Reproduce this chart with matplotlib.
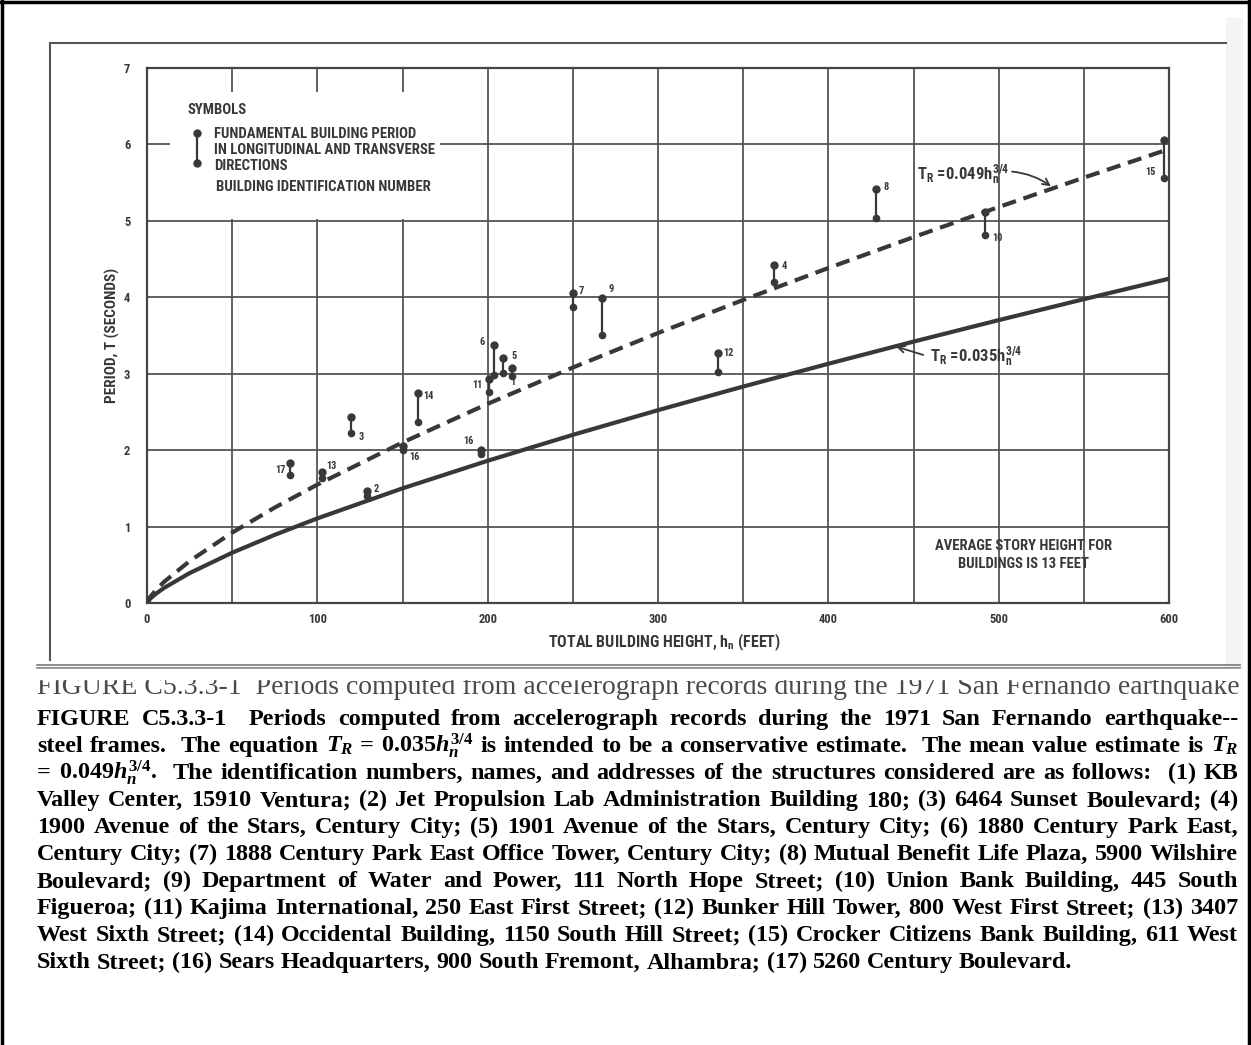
import matplotlib
matplotlib.use('Agg')
import matplotlib.pyplot as plt
from matplotlib import font_manager
from matplotlib.patches import Rectangle
from matplotlib.lines import Line2D

W, H = 1251, 1045

# code curves T = 0.035 h^3/4 (lower bound) and T = 0.049 h^3/4 (mean)
heights = [0, 2, 5, 10, 25, 50, 75, 100, 150, 200, 250, 300, 350, 400, 450, 500, 550, 600]
period_lower = [0, 0.059, 0.117, 0.197, 0.391, 0.658, 0.892, 1.107, 1.500, 1.861,
                2.200, 2.523, 2.832, 3.130, 3.420, 3.701, 3.975, 4.243]
period_mean = [0, 0.082, 0.164, 0.276, 0.548, 0.921, 1.249, 1.549, 2.100, 2.606,
               3.081, 3.532, 3.965, 4.383, 4.787, 5.181, 5.565, 5.940]

# measured buildings: period range (longitudinal / transverse)
bldg_ids = ['1', '2', '3', '4', '5', '6', '7', '8', '9', '10', '11', '12', '13', '14',
            '15', '16', '16', '17']
bldg_height = [214, 129, 120, 368, 209, 204, 250, 428, 267, 492, 201, 335, 103, 159,
               597, 150, 196, 84]
period_max = [3.07, 1.47, 2.43, 4.42, 3.21, 3.38, 4.06, 5.42, 3.99, 5.12, 2.93, 3.27,
              1.71, 2.75, 6.06, 2.05, 2.00, 1.83]
period_min = [2.97, 1.40, 2.22, 4.20, 3.01, 2.98, 3.87, 5.04, 3.51, 4.81, 2.76, 3.02,
              1.64, 2.37, 5.56, 2.00, 1.95, 1.67]
# where each id label sits relative to the top of its bar (pixels)
label_offset = [(1, -14), (10, 2), (10, -20), (10, -1), (11, 2), (-12, 3), (8, 2),
                (10, 2), (9, 9), (12, -26), (-12, -6), (11, 0), (9, 6), (11, -3),
                (-13, -32), (12, -11), (-12, 9), (-10, -7)]

x_ticks = [0, 100, 200, 300, 400, 500, 600]
y_ticks = [0, 1, 2, 3, 4, 5, 6, 7]

caption_lines = [
    "FIGURE C5.3.3-1  Periods computed from accelerograph records during the 1971 San Fernando earthquake--",
    "steel frames.  The equation $T_R$ = 0.035$h_n^{\\mathit{3/4}}$ is intended to be a conservative estimate.  The mean value estimate is $T_R$",
    "= 0.049$h_n^{\\mathit{3/4}}$.  The identification numbers, names, and addresses of the structures considered are as follows:  (1) KB",
    "Valley Center, 15910 Ventura; (2) Jet Propulsion Lab Administration Building 180; (3) 6464 Sunset Boulevard; (4)",
    "1900 Avenue of the Stars, Century City; (5) 1901 Avenue of the Stars, Century City; (6) 1880 Century Park East,",
    "Century City; (7) 1888 Century Park East Office Tower, Century City; (8) Mutual Benefit Life Plaza, 5900 Wilshire",
    "Boulevard; (9) Department of Water and Power, 111 North Hope Street; (10) Union Bank Building, 445 South",
    "Figueroa; (11) Kajima International, 250 East First Street; (12) Bunker Hill Tower, 800 West First Street; (13) 3407",
    "West Sixth Street; (14) Occidental Building, 1150 South Hill Street; (15) Crocker Citizens Bank Building, 611 West",
    "Sixth Street; (16) Sears Headquarters, 900 South Fremont, Alhambra; (17) 5260 Century Boulevard.",
]
scan_caption = "FIGURE C5.3.3-1  Periods computed from accelerograph records during the 1971 San Fernando earthquake"

names = {f.name for f in font_manager.fontManager.ttflist}
NARROW = 'Roboto'
for cand in ['Liberation Sans Narrow', 'Roboto Condensed', 'Open Sans Condensed', 'Roboto']:
    if cand in names:
        NARROW = cand
        break
SERIF = 'Liberation Serif'

plt.rcParams['mathtext.fontset'] = 'custom'
plt.rcParams['mathtext.rm'] = SERIF + ':bold'
plt.rcParams['mathtext.it'] = SERIF + ':italic:bold'
plt.rcParams['mathtext.bf'] = SERIF + ':bold'
plt.rcParams['mathtext.sf'] = NARROW + ':bold'

INK = '#383838'
chart_font = dict(fontfamily=NARROW, fontweight='bold', color=INK)


def fx(x):
    return x / W


def fy(y):
    return 1 - y / H


fig = plt.figure(figsize=(W / 100, H / 100), dpi=100)
renderer = fig.canvas.get_renderer()

# scan frame and outer border
fig.patches.append(Rectangle((fx(1226), fy(668)), 16 / W, 650 / H, transform=fig.transFigure,
                             color='#f4f4f4', zorder=0))
for xs, ys, c, lw in [([50, 1226], [43, 43], '#555', 1.5),
                      ([50, 50], [43, 660], '#555', 1.5),
                      ([37, 1240], [665, 665], '#777', 1.2),
                      ([37, 1240], [668, 668], '#777', 1.2),
                      ([1.5, 1.5], [0, H], 'black', 2.5),
                      ([0, W], [1.5, 1.5], 'black', 2.5),
                      ([1248.5, 1248.5], [0, H], 'black', 2.5)]:
    fig.lines.append(Line2D([fx(v) for v in xs], [fy(v) for v in ys], color=c, lw=lw,
                            transform=fig.transFigure))

ax = fig.add_axes([fx(147), fy(603), 1022 / W, 535 / H])
ax.set_xlim(0, 600)
ax.set_ylim(0, 7)
ax.set_xticks(x_ticks)
ax.set_xticks(range(0, 601, 50), minor=True)
ax.set_yticks(y_ticks)
ax.set_xticklabels([str(v) for v in x_ticks], fontsize=9, **chart_font)
ax.set_yticklabels([str(v) for v in y_ticks], fontsize=9, **chart_font)
ax.tick_params(which='both', length=0)
ax.tick_params(axis='x', pad=7)
ax.tick_params(axis='y', pad=12)
ax.grid(True, which='both', color='#555', lw=1.3)
for s in ax.spines.values():
    s.set_color('#444')
    s.set_linewidth(1.6)

# blank area for the symbol key
ax.add_patch(Rectangle((0.0225, 0.718), 0.264, 0.237, transform=ax.transAxes,
                       facecolor='white', edgecolor='none', zorder=1.6))

ax.plot(heights, period_lower, color=INK, lw=3.0, zorder=3)
ax.plot(heights, period_mean, color=INK, lw=3.0, ls=(0, (3.4, 1.9)), zorder=3)

ax.vlines(bldg_height, period_min, period_max, color=INK, lw=1.6, zorder=4)
ax.plot(bldg_height, period_max, 'o', color=INK, ms=5, zorder=4)
ax.plot(bldg_height, period_min, 'o', color=INK, ms=4.5, zorder=4)
for h, t, lab, off in zip(bldg_height, period_max, bldg_ids, label_offset):
    ax.annotate(lab, (h, t), xytext=off, textcoords='offset pixels', ha='center',
                va='center', fontsize=7.5, zorder=5, **chart_font)

# symbol key
ax.plot([0.0489, 0.0489], [0.8785, 0.8224], color=INK, lw=1.6, transform=ax.transAxes, zorder=4)
ax.plot([0.0489, 0.0489], [0.8785, 0.8224], 'o', color=INK, ms=5, transform=ax.transAxes, zorder=4)
key_size = 10.6
fig.text(fx(187), fy(110), 'SYMBOLS', fontsize=key_size, va='center', **chart_font)
fig.text(fx(214), fy(150), 'FUNDAMENTAL BUILDING PERIOD\nIN LONGITUDINAL AND TRANSVERSE\nDIRECTIONS',
         fontsize=key_size, va='center', linespacing=1.2, **chart_font)
fig.text(fx(216), fy(187), 'BUILDING IDENTIFICATION NUMBER', fontsize=key_size, va='center',
         **chart_font)

# curve labels
ax.annotate(r'$\mathsf{T_R}$ =0.049$\mathsf{h_n^{3/4}}$', xy=(532, 5.43),
            xytext=(fx(917), fy(175)), textcoords='figure fraction', va='center', ha='left',
            fontsize=12, **chart_font, zorder=5,
            arrowprops=dict(arrowstyle='->', color=INK, lw=1.3, shrinkA=0, shrinkB=2,
                            relpos=(1.0, 0.65), connectionstyle='arc3,rad=-0.15'))
ax.annotate(r'$\mathsf{T_R}$ =0.035$\mathsf{h_n^{3/4}}$', xy=(439, 3.36),
            xytext=(fx(930), fy(357)), textcoords='figure fraction', va='center', ha='left',
            fontsize=12, **chart_font, zorder=5,
            arrowprops=dict(arrowstyle='->', color=INK, lw=1.3, shrinkA=3, shrinkB=1,
                            relpos=(0.0, 0.5)))
fig.text(fx(1024), fy(555), 'AVERAGE STORY HEIGHT FOR\nBUILDINGS IS 13 FEET', ha='center',
         va='center', fontsize=10.5, linespacing=1.3, **chart_font)

fig.text(fx(112), fy(335), 'PERIOD, T (SECONDS)', rotation=90, ha='center', va='center',
         fontsize=11, **chart_font)
fig.text(fx(665), fy(642), r'TOTAL BUILDING HEIGHT, $\mathsf{h_n}$ (FEET)', ha='center',
         va='center', fontsize=11.5, **chart_font)

# caption of the scan, cut off at the top
t = fig.text(fx(37), fy(694), scan_caption, fontfamily=SERIF, fontsize=16, color='#4a4a4a',
             va='baseline', ha='left')
t.set_fontsize(16 * 1203 / t.get_window_extent(renderer).width)
fig.patches.append(Rectangle((fx(20), fy(679)), 1225 / W, 10 / H, transform=fig.transFigure,
                             color='white', zorder=10))

# typed caption, justified; size chosen so the last (ragged) line ends where it does
cap_kw = dict(fontfamily=SERIF, fontweight='bold', fontsize=12.6, color='black')
probe = fig.text(0, 0, caption_lines[-1], **cap_kw)
cap_kw['fontsize'] = 12.6 * 1035 / probe.get_window_extent(renderer).width
probe.remove()
t_a = fig.text(0, 0, 'a b', **cap_kw)
t_b = fig.text(0, 0, 'ab', **cap_kw)
space_w = t_a.get_window_extent(renderer).width - t_b.get_window_extent(renderer).width
t_a.remove()
t_b.remove()


def place_line(line, ybase, x0, x1, justify=True):
    words = line.split(' ')
    arts, widths = [], []
    for w_ in words:
        if w_ == '':
            arts.append(None)
            widths.append(0.0)
            continue
        tt = fig.text(0, fy(ybase), w_, va='baseline', ha='left', **cap_kw)
        arts.append(tt)
        widths.append(tt.get_window_extent(renderer).width)
    gap = ((x1 - x0) - sum(widths)) / (len(words) - 1) if justify else space_w
    gap = max(gap, 0.5 * space_w)
    x = x0
    for tt, wd in zip(arts, widths):
        if tt is not None:
            tt.set_x(fx(x))
        x += wd + gap


for i, line in enumerate(caption_lines):
    place_line(line, 725 + 27 * i, 37, 1238, justify=(i < len(caption_lines) - 1))

fig.savefig('out.png', dpi=100)
